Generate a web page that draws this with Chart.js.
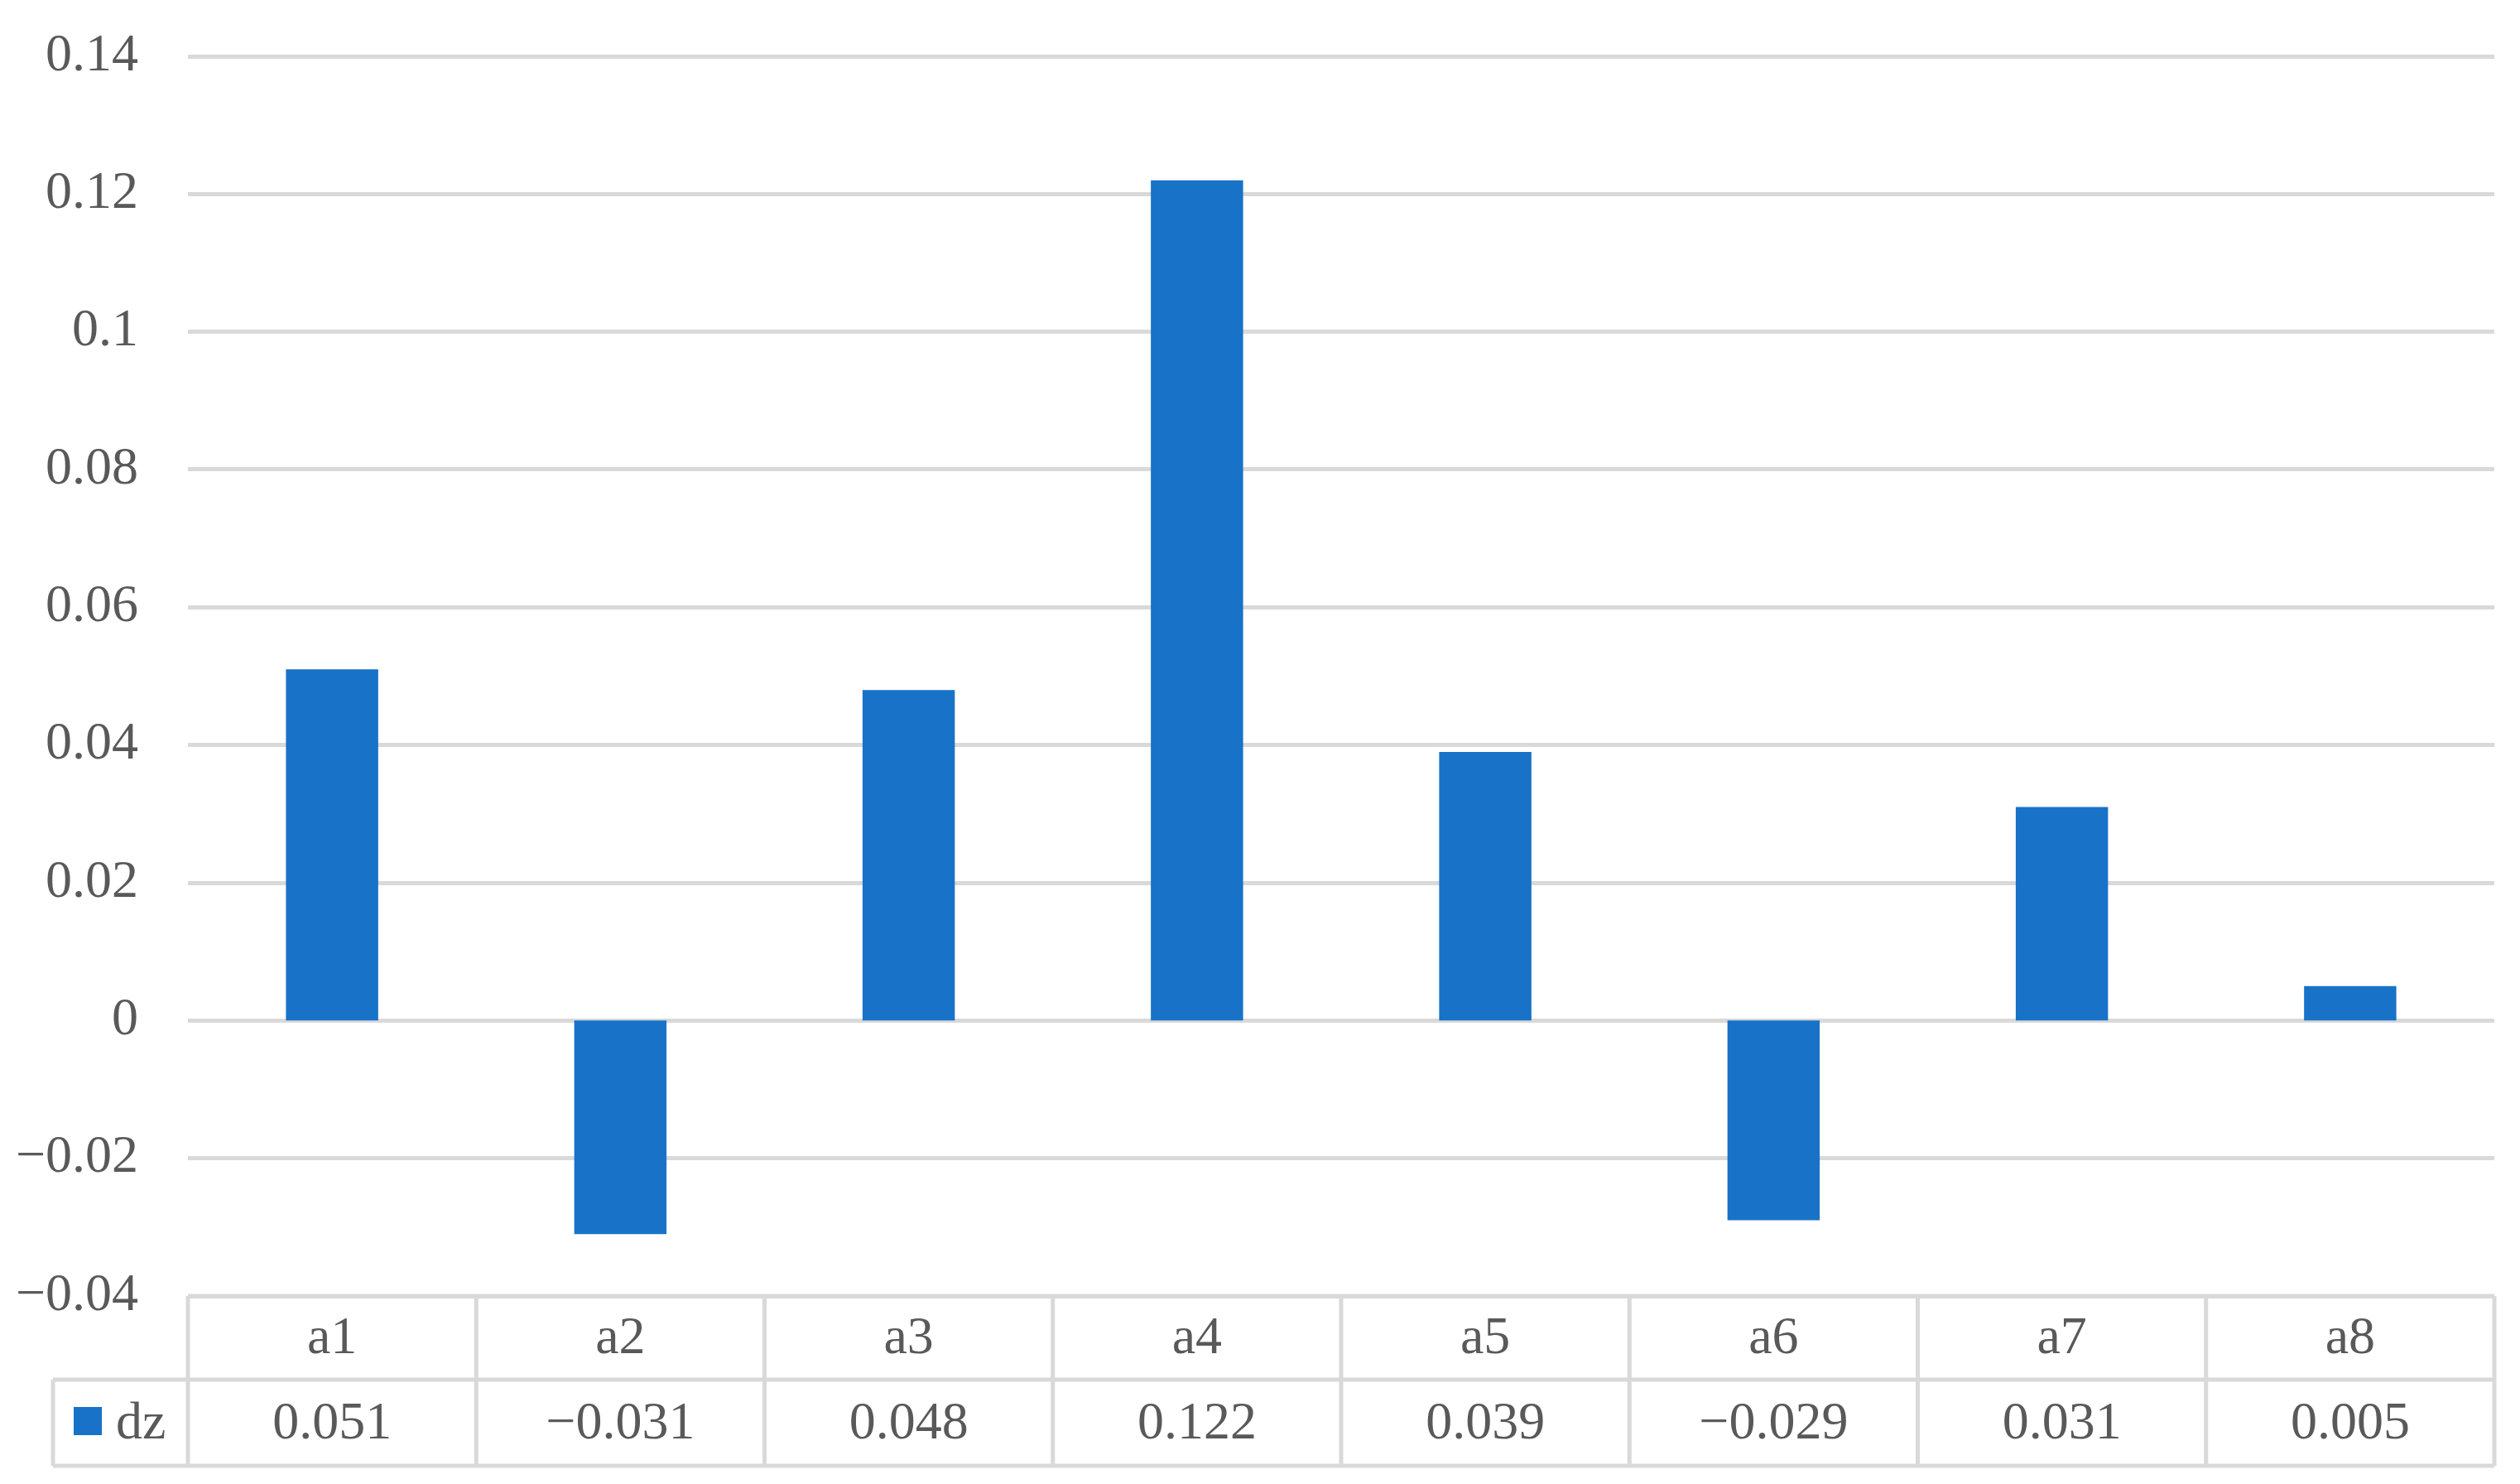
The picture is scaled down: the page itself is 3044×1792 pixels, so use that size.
<!DOCTYPE html>
<html>
<head>
<meta charset="utf-8">
<script src="https://cdn.jsdelivr.net/npm/chart.js@4/dist/chart.umd.min.js"></script>
<style>
  html, body { margin: 0; padding: 0; background: #fff; }
  #wrap { width: 3044px; height: 1792px; }
</style>
</head>
<body>
<div id="wrap"><canvas id="chart" width="3044" height="1792"></canvas></div>
<script>
const categories = ["a1", "a2", "a3", "a4", "a5", "a6", "a7", "a8"];
const dzValues = [0.051, -0.031, 0.048, 0.122, 0.039, -0.029, 0.031, 0.005];
const dzLabels = ["0.051", "-0.031", "0.048", "0.122", "0.039", "-0.029", "0.031", "0.005"];
const seriesName = "dz";

const barColor = "#1872c8";
const gridColor = "#d9d9d9";
const textColor = "#595959";
const fontFamily = "'Liberation Serif', 'DejaVu Serif', serif";

function minusSign(s) {
  return String(s).replace("-", "\u2212");
}

// data table drawn under the plot, columns follow the x scale
const tablePlugin = {
  id: "dataTable",
  afterDraw(chart) {
    const ctx = chart.ctx;
    const x = chart.scales.x;
    const area = chart.chartArea;
    const colW = (area.right - area.left) / categories.length;
    const top = area.bottom;
    const mid = top + 101;
    const bottom = top + 205;
    const legendLeft = 64;

    ctx.save();
    ctx.strokeStyle = gridColor;
    ctx.lineWidth = 5;
    ctx.beginPath();
    ctx.moveTo(area.left, top);
    ctx.lineTo(area.right, top);
    ctx.moveTo(legendLeft, mid);
    ctx.lineTo(area.right, mid);
    ctx.moveTo(legendLeft, bottom);
    ctx.lineTo(area.right, bottom);
    ctx.moveTo(legendLeft, mid);
    ctx.lineTo(legendLeft, bottom);
    for (let i = 0; i <= categories.length; i++) {
      const px = area.left + i * colW;
      ctx.moveTo(px, top);
      ctx.lineTo(px, bottom);
    }
    ctx.stroke();

    ctx.fillStyle = textColor;
    ctx.font = "64px " + fontFamily;
    ctx.textAlign = "center";
    ctx.textBaseline = "middle";
    categories.forEach((c, i) => {
      const cx = x.getPixelForValue(i);
      ctx.fillText(c, cx, (top + mid) / 2 + 2);
      ctx.fillText(minusSign(dzLabels[i]), cx, (mid + bottom) / 2 + 2);
    });

    // legend key
    ctx.fillStyle = barColor;
    ctx.fillRect(89, 1699, 34, 34);
    ctx.fillStyle = textColor;
    ctx.textAlign = "left";
    ctx.fillText(seriesName, 140, (mid + bottom) / 2 + 2);
    ctx.restore();
  }
};

new Chart(document.getElementById("chart"), {
  type: "bar",
  data: {
    labels: categories,
    datasets: [
      {
        label: seriesName,
        data: dzValues,
        backgroundColor: barColor,
        borderWidth: 0,
        categoryPercentage: 1,
        barPercentage: 0.32,
      },
    ],
  },
  options: {
    responsive: false,
    animation: false,
    devicePixelRatio: 1,
    layout: {
      padding: { left: 0, top: 68, right: 31, bottom: 227 },
    },
    plugins: {
      legend: { display: false },
      tooltip: { enabled: false },
    },
    scales: {
      x: {
        display: false,
      },
      y: {
        min: -0.04,
        max: 0.14,
        afterFit(scale) {
          scale.width = 227;
        },
        border: { display: false },
        grid: {
          color: gridColor,
          lineWidth: 5,
          drawTicks: true,
          tickLength: 58,
          tickColor: "rgba(0,0,0,0)",
        },
        ticks: {
          stepSize: 0.02,
          padding: 2,
          color: textColor,
          font: { family: fontFamily, size: 64 },
          callback: (v) => minusSign(Math.round(v * 100) / 100),
        },
      },
    },
  },
  plugins: [tablePlugin],
});
</script>
</body>
</html>
